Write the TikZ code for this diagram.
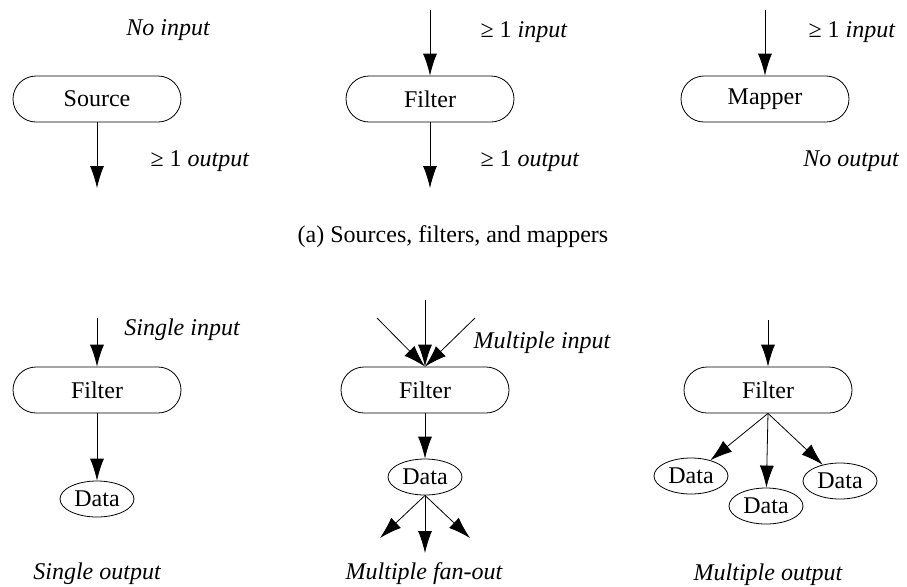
\documentclass[tikz,border=0pt]{standalone}
\usepackage{fontspec}
\setmainfont{Liberation Serif}
\usetikzlibrary{arrows.meta,shapes.geometric}
\begin{document}
\begin{tikzpicture}[x=0.5pt,y=-0.5pt,
  every node/.style={font=\fontsize{12}{14}\selectfont},
  procbox/.style={draw, rounded corners=11.5pt, minimum width=84pt, minimum height=23pt, inner sep=0pt},
  databox/.style={draw, ellipse, minimum width=37pt, minimum height=18pt, inner sep=0pt},
  note/.style={font=\fontsize{12}{14}\selectfont\itshape},
  flow/.style={-{Latex[length=11pt,width=7pt]}}]
\useasboundingbox (0,0) rectangle (907,586);
\node[procbox] (source) at (97,99) {Source};
\node[procbox] (filter) at (430,99) {Filter};
\node[procbox] (mapper) at (765,99) {Mapper};
\coordinate (sourceout) at (97,188);
\coordinate (filterin) at (430,10);
\coordinate (filterout) at (430,188);
\coordinate (mapperin) at (765,10);
\draw[flow] (source) -- (sourceout);
\draw[flow] (filterin) -- (filter);
\draw[flow] (filter) -- (filterout);
\draw[flow] (mapperin) -- (mapper);
\node[note] (noin) at (168,30) {No input};
\node (srcoutlbl) at (200,161) {≥ 1 \textit{output}};
\node (filinlbl) at (524,32) {≥ 1 \textit{input}};
\node (filoutlbl) at (530,161) {≥ 1 \textit{output}};
\node (mapinlbl) at (852,32) {≥ 1 \textit{input}};
\node[note] (noout) at (851,161) {No output};
\node (captiona) at (453,237) {(a) Sources, filters, and mappers};
\node[procbox] (single) at (97,390) {Filter};
\node[databox] (singledata) at (97,499) {Data};
\coordinate (singlein) at (97,318);
\draw[flow] (singlein) -- (single);
\draw[flow] (single) -- (singledata);
\node[note] (singleinlbl) at (182,330) {Single input};
\node[note] (singleoutlbl) at (97,574) {Single output};
\node[procbox] (multi) at (425,390) {Filter};
\node[databox] (multidata) at (425,477) {Data};
\coordinate (multiinl) at (377,318);
\coordinate (multiinc) at (425,300);
\coordinate (multiinr) at (475,318);
\coordinate (fanl) at (380,538);
\coordinate (fanc) at (425,553);
\coordinate (fanr) at (470,538);
\draw[flow] (multiinl) -- (multi.north);
\draw[flow] (multiinc) -- (multi.north);
\draw[flow] (multiinr) -- (multi.north);
\draw[flow] (multi) -- (multidata);
\draw[flow] (multidata.south) -- (fanl);
\draw[flow] (multidata.south) -- (fanc);
\draw[flow] (multidata.south) -- (fanr);
\node[note] (multiinlbl) at (542,343) {Multiple input};
\node[note] (fanoutlbl) at (424,574) {Multiple fan-out};
\node[procbox] (multiout) at (768,390) {Filter};
\node[databox] (outdatal) at (691,476) {Data};
\node[databox] (outdatac) at (766,506) {Data};
\node[databox] (outdatar) at (840,481) {Data};
\coordinate (multioutin) at (768,320);
\draw[flow] (multioutin) -- (multiout);
\draw[flow] (multiout.south) -- (outdatal);
\draw[flow] (multiout.south) -- (outdatac);
\draw[flow] (multiout.south) -- (outdatar);
\node[note] (multioutlbl) at (768,575) {Multiple output};
\end{tikzpicture}
\end{document}
